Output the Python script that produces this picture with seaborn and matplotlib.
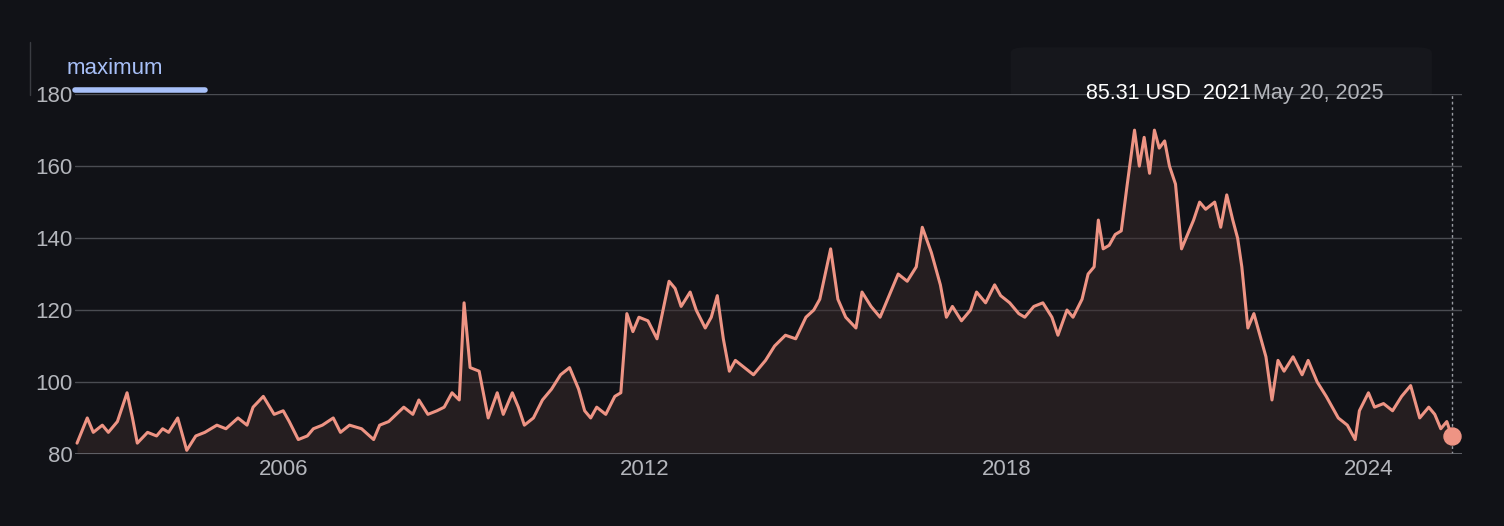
import numpy as np
import pandas as pd
import matplotlib.pyplot as plt
from matplotlib.patches import FancyBboxPatch
import seaborn as sns

# approximate decimal years and prices
years = [2002.58, 2002.75, 2002.85, 2003.0, 2003.1, 2003.25, 2003.41, 2003.5, 2003.58, 2003.75,
         2003.9, 2004.0, 2004.1, 2004.25, 2004.4, 2004.55, 2004.7, 2004.9, 2005.05, 2005.25,
         2005.4, 2005.5, 2005.67, 2005.85, 2006.0, 2006.1, 2006.25, 2006.4, 2006.5, 2006.65,
         2006.83, 2006.95, 2007.1, 2007.3, 2007.5, 2007.6, 2007.75, 2008.0, 2008.15, 2008.25,
         2008.4, 2008.55, 2008.67, 2008.8, 2008.92, 2009.0, 2009.1, 2009.25, 2009.4, 2009.55,
         2009.65, 2009.8, 2009.9, 2010.0, 2010.15, 2010.3, 2010.45, 2010.6, 2010.75, 2010.9,
         2011.0, 2011.1, 2011.2, 2011.35, 2011.5, 2011.6, 2011.7, 2011.8, 2011.9, 2012.05,
         2012.2, 2012.3, 2012.4, 2012.5, 2012.6, 2012.75, 2012.85, 2013.0, 2013.1, 2013.2,
         2013.3, 2013.4, 2013.5, 2013.65, 2013.8, 2014.0, 2014.15, 2014.33, 2014.5, 2014.67,
         2014.8, 2014.9, 2015.08, 2015.2, 2015.33, 2015.5, 2015.6, 2015.75, 2015.9, 2016.0,
         2016.2, 2016.35, 2016.5, 2016.6, 2016.75, 2016.9, 2017.0, 2017.1, 2017.25, 2017.4,
         2017.5, 2017.65, 2017.8, 2017.9, 2018.05, 2018.2, 2018.3, 2018.45, 2018.6, 2018.75,
         2018.85, 2019.0, 2019.1, 2019.25, 2019.35, 2019.45, 2019.52, 2019.6, 2019.7, 2019.8,
         2019.9, 2020.0, 2020.12, 2020.2, 2020.28, 2020.37, 2020.45, 2020.53, 2020.62, 2020.7,
         2020.8, 2020.9, 2021.0, 2021.1, 2021.2, 2021.3, 2021.45, 2021.55, 2021.65, 2021.75,
         2021.83, 2021.9, 2022.0, 2022.1, 2022.2, 2022.3, 2022.4, 2022.5, 2022.6, 2022.75,
         2022.9, 2023.0, 2023.15, 2023.3, 2023.5, 2023.65, 2023.78, 2023.85, 2024.0, 2024.1,
         2024.25, 2024.4, 2024.55, 2024.7, 2024.85, 2025.0, 2025.1, 2025.2, 2025.3, 2025.38]
values = [83, 90, 86, 88, 86, 89, 97, 90, 83, 86,
          85, 87, 86, 90, 81, 85, 86, 88, 87, 90,
          88, 93, 96, 91, 92, 89, 84, 85, 87, 88,
          90, 86, 88, 87, 84, 88, 89, 93, 91, 95,
          91, 92, 93, 97, 95, 122, 104, 103, 90, 97,
          91, 97, 93, 88, 90, 95, 98, 102, 104, 98,
          92, 90, 93, 91, 96, 97, 119, 114, 118, 117,
          112, 120, 128, 126, 121, 125, 120, 115, 118, 124,
          112, 103, 106, 104, 102, 106, 110, 113, 112, 118,
          120, 123, 137, 123, 118, 115, 125, 121, 118, 122,
          130, 128, 132, 143, 136, 127, 118, 121, 117, 120,
          125, 122, 127, 124, 122, 119, 118, 121, 122, 118,
          113, 120, 118, 123, 130, 132, 145, 137, 138, 141,
          142, 155, 170, 160, 168, 158, 170, 165, 167, 160,
          155, 137, 141, 145, 150, 148, 150, 143, 152, 145,
          140, 132, 115, 119, 113, 107, 95, 106, 103, 107,
          102, 106, 100, 96, 90, 88, 84, 92, 97, 93,
          94, 92, 96, 99, 90, 93, 91, 87, 89, 85]

df = pd.DataFrame({"year": years, "price": values})

bg = "#111217"
line_c = "#ee9484"
sns.set_theme(style="dark", rc={"axes.facecolor": bg, "figure.facecolor": bg,
                                "font.family": "Liberation Sans"})
fig = plt.figure(figsize=(15.04, 5.26), dpi=100)
ax = fig.add_axes([0.05, 0.137, 0.922, 0.684])

ax.fill_between(df.year, df.price, 80, color="#3a2a2a", alpha=0.5, lw=0)
sns.lineplot(data=df, x="year", y="price", ax=ax, color=line_c, lw=2.2)
ax.scatter([years[-1]], [values[-1]], s=150, color=line_c, zorder=5, clip_on=False)
ax.axvline(years[-1], color="#9a9ca3", ls=(0, (2, 2)), lw=1)

ax.set_xlim(2002.55, 2025.55)
ax.set_ylim(80, 180)
ax.set_yticks([80, 100, 120, 140, 160, 180])
ax.set_xticks([2006, 2012, 2018, 2024])
ax.set_xticklabels(["2006", "2012", "2018", "2024"])
ax.grid(axis="y", color="#4a4c52", lw=1)
ax.grid(axis="x", visible=False)
ax.set_xlabel("")
ax.set_ylabel("")
for s in ax.spines.values():
    s.set_visible(False)
ax.axhline(80, color="#6a6c72", lw=1.2)
ax.tick_params(axis="both", colors="#b4b6bc", labelsize=16, length=0, pad=4)
ax.tick_params(axis="y", pad=2)

# legend / range label
fig.text(0.044, 0.86, "maximum", color="#a8c0f8", fontsize=16)
fig.add_artist(plt.Line2D([0.05, 0.136], [0.828, 0.828], color="#a8c0f8", lw=4))
fig.add_artist(plt.Line2D([0.02, 0.02], [0.82, 0.92], color="#3a3c42", lw=1))

# tooltip
fig.add_artist(FancyBboxPatch((0.672, 0.74), 0.28, 0.17, boxstyle="round,pad=0,rounding_size=0.01",
                              transform=fig.transFigure, fc="#16171c", ec="none", zorder=0))
fig.text(0.832, 0.822, "85.31 USD  2021", color="white", fontsize=15.5, ha="right", va="center")
fig.text(0.833, 0.822, "May 20, 2025", color="#b4b6bc", fontsize=15.5, ha="left", va="center")

fig.savefig("out.png", dpi=100, facecolor=bg)
